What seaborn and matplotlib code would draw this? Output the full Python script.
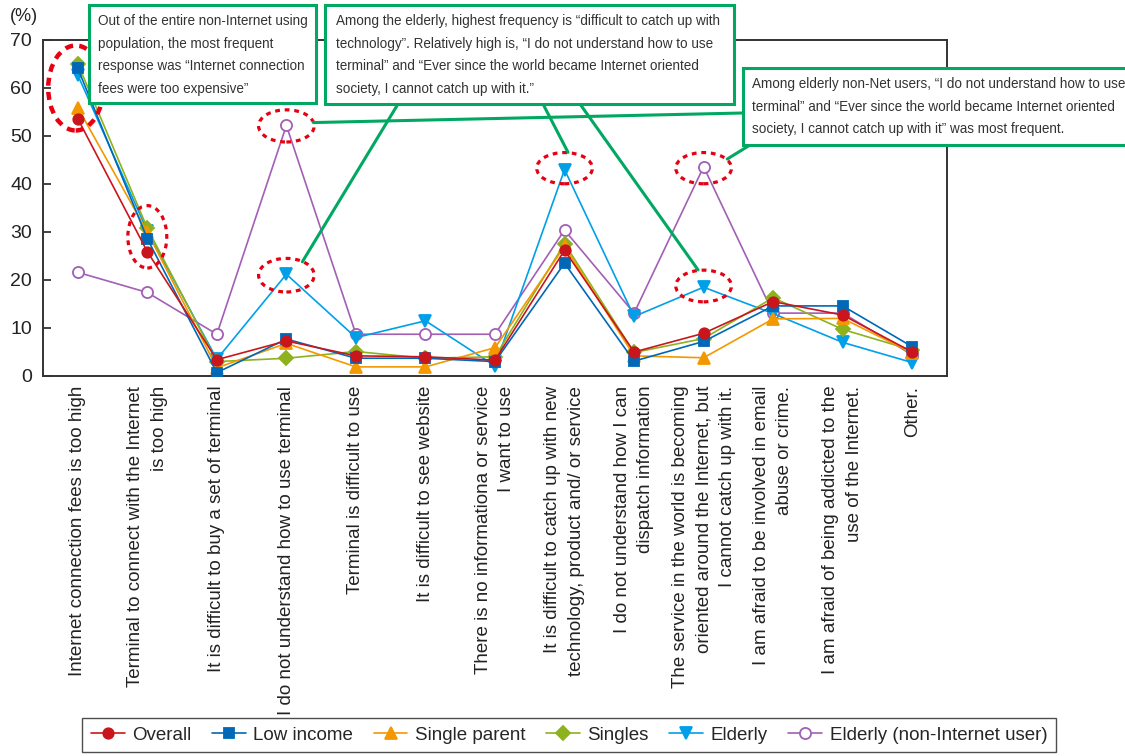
import numpy as np
import pandas as pd
import matplotlib
matplotlib.use("Agg")
import matplotlib.pyplot as plt
import matplotlib.transforms as mtransforms
from matplotlib.patches import Ellipse, Rectangle
import seaborn as sns

# ---------------- data ----------------
categories = [
    "Internet connection fees is too high",
    "Terminal to connect with the Internet\nis too high",
    "It is difficult to buy a set of terminal",
    "I do not understand how to use terminal",
    "Terminal is difficult to use",
    "It is difficult to see website",
    "There is no informationa or service\nI want to use",
    "It is difficult to catch up with new\ntechnology, product and/ or service",
    "I do not understand how I can\ndispatch information",
    "The service in the world is becoming\noriented around the Internet, but\nI cannot catch up with it.",
    "I am afraid to be involved in email\nabuse or crime.",
    "I am afraid of being addicted to the\nuse of the Internet.",
    "Other.",
]
series_names = ["Overall", "Low income", "Single parent", "Singles", "Elderly",
                "Elderly (non-Internet user)"]
overall = [53.6, 25.9, 3.4, 7.3, 4.2, 4.0, 3.3, 26.2, 5.0, 8.9, 15.5, 12.7, 5.0]
low_income = [64.1, 28.6, 0.7, 7.7, 3.7, 3.7, 3.0, 23.5, 3.1, 7.2, 14.6, 14.6, 6.1]
single_parent = [55.9, 30.0, 1.7, 6.8, 1.9, 1.9, 5.9, 27.0, 4.2, 3.8, 11.9, 12.0, 4.8]
singles = [65.1, 30.8, 3.0, 3.7, 5.1, 3.7, 4.0, 27.6, 4.9, 7.8, 16.3, 9.7, 5.4]
elderly = [62.7, 30.2, 3.5, 21.2, 8.0, 11.5, 2.1, 43.0, 12.4, 18.5, 13.0, 7.0, 2.8]
elderly_non_user = [21.6, 17.4, 8.7, 52.2, 8.7, 8.7, 8.7, 30.4, 13.1, 43.6, 13.1, 13.1, 4.4]
y_ticks = [0, 10, 20, 30, 40, 50, 60, 70]

note1 = ("Out of the entire non-Internet using\npopulation, the most frequent\n"
         "response was \u201cInternet connection\nfees were too expensive\u201d")
note2 = ("Among the elderly, highest frequency is \u201cdifficult to catch up with\n"
         "technology\u201d. Relatively high is, \u201cI do not understand how to use\n"
         "terminal\u201d and \u201cEver since the world became Internet oriented\n"
         "society, I cannot catch up with it.\u201d")
note3 = ("Among elderly non-Net users, \u201cI do not understand how to use\n"
         "terminal\u201d and \u201cEver since the world became Internet oriented\n"
         "society, I cannot catch up with it\u201d was most frequent.")

# ---------------- style ----------------
sns.set_style("white")
plt.rcParams["font.family"] = ["Liberation Sans", "DejaVu Sans"]

colors = ["#c9161d", "#0068b7", "#f39800", "#8db21e", "#00a0e9", "#a25fb5"]
markers = ["o", "s", "^", "D", "v", "o"]
msizes = [7.5, 7, 8, 7.5, 8, 8]
values = [overall, low_income, single_parent, singles, elderly, elderly_non_user]

W, H = 1125, 756
fig = plt.figure(figsize=(W / 100, H / 100), dpi=100)
ax = fig.add_axes([43 / W, 1 - 376 / H, (947 - 43) / W, (376 - 40) / H])
PX = mtransforms.Affine2D().scale(1 / W, -1 / H).translate(0, 1) + fig.transFigure

x_pos = np.arange(len(categories))
draw_order = [5, 4, 3, 2, 1, 0]
for i in draw_order:
    df = pd.DataFrame({"x": x_pos, "y": values[i]})
    face = "white" if i == 5 else colors[i]
    sns.lineplot(data=df, x="x", y="y", ax=ax, color=colors[i], lw=1.2,
                 marker=markers[i], markersize=msizes[i], markerfacecolor=face,
                 markeredgecolor=colors[i], markeredgewidth=1.3,
                 label=series_names[i], zorder=3 + (6 - i) * 0.1, legend=False)

ax.set_xlim(-0.5, len(categories) - 0.5)
ax.set_ylim(0, 70)
ax.set_yticks(y_ticks)
ax.set_yticklabels([str(v) for v in y_ticks], fontsize=14, color="#222")
ax.set_xticks(x_pos)
ax.set_xticklabels(categories, rotation=90, fontsize=13.5, ha="center", va="top",
                   multialignment="right", linespacing=1.5, color="#222")
ax.set_xticks(np.arange(0.5, len(categories) - 1, 1), minor=True)
ax.tick_params(axis="x", which="major", length=0, pad=7)
ax.tick_params(axis="x", which="minor", direction="in", length=7, width=1.3, color="#333")
ax.tick_params(axis="y", direction="in", length=6, width=1.3, color="#333", pad=8, left=True)
ax.set_xlabel("")
ax.set_ylabel("")
for s in ax.spines.values():
    s.set_color("#333")
    s.set_linewidth(1.4)

fig.text(10, 8, "(%)", transform=PX, fontsize=13, va="top", ha="left", color="#222")

# ---------------- highlight ellipses ----------------
red = "#e60012"
ell = [  # (x, y, width, height) in data units
    (-0.03, 60.0, 0.79, 17.7),
    (1, 29.0, 0.56, 13.0),
    (3, 52.1, 0.80, 6.7),
    (3, 21.0, 0.80, 7.0),
    (7, 43.3, 0.80, 6.5),
    (9, 43.3, 0.80, 6.5),
    (9, 18.75, 0.80, 6.6),
]
for (ex, ey, ew, eh) in ell:
    lw = 3.2 if eh > 15 else 2.3
    dash = (0, (1.8, 1.4)) if eh > 15 else (0, (1.5, 1.5))
    ax.add_patch(Ellipse((ex, ey), ew, eh, fill=False, edgecolor=red, lw=lw,
                         linestyle=dash, zorder=6, clip_on=False))

# ---------------- callout boxes ----------------
green = "#00a862"
boxes = [((89, 5), 227, 98, note1, (98, 14)),
         ((325, 5), 409, 99, note2, (336, 14)),
         ((743, 68), 400, 77, note3, (752, 77))]
for (bx, by), bw, bh, txt, (tx, ty) in boxes:
    fig.patches.append(Rectangle((bx, by), bw, bh, transform=PX, facecolor="white",
                                 edgecolor=green, lw=2.2, zorder=5))
    fig.text(tx, ty, txt, transform=PX, fontsize=9.75, va="top",
             ha="left", linespacing=1.78, color="#333", zorder=6)

connectors = [  # (box point px, data point)
    ((398, 104), (3.23, 23.8)),
    ((743, 113), (3.39, 52.8)),
    ((543, 104), (7.05, 46.6)),
    ((580, 104), (8.92, 22.1)),
    ((750, 145), (9.34, 45.2)),
]
for (px, dp) in connectors:
    ax.annotate("", xy=dp, xycoords="data", xytext=px, textcoords=PX,
                arrowprops=dict(arrowstyle="-", color=green, lw=2.2,
                                shrinkA=0, shrinkB=0),
                annotation_clip=False, zorder=7)

# ---------------- legend ----------------
handles, labels = ax.get_legend_handles_labels()
order = [labels.index(n) for n in series_names]
leg = fig.legend([handles[k] for k in order], [labels[k] for k in order],
                 loc="center", bbox_to_anchor=(569 / W, 1 - 735 / H), ncol=6,
                 frameon=True, fancybox=False, edgecolor="#222",
                 handlelength=1.8, handletextpad=0.4, columnspacing=1.1,
                 borderpad=0.45, prop={"size": 13.5})
leg.get_frame().set_linewidth(1.0)

fig.savefig("out.png", dpi=100)
